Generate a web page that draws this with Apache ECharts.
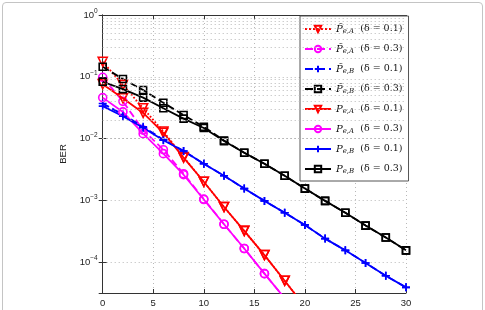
<!DOCTYPE html>
<html>
<head>
<meta charset="utf-8">
<script src="https://cdn.jsdelivr.net/npm/echarts@6/dist/echarts.min.js"></script>
<style>
  html, body { margin: 0; padding: 0; background: #fff; }
  #frame { position: absolute; left: 2px; top: 2px; width: 479px; height: 330px; border: 1px solid #c4c4c4; border-radius: 4px; }
  #main { position: absolute; left: 0; top: 0; width: 485px; height: 310px; }
</style>
</head>
<body>
<div id="frame"></div>
<div id="main"></div>
<script>
// SNR (dB) sample points
var snr = [0, 2, 4, 6, 8, 10, 12, 14, 16, 18, 20, 22, 24, 26, 28, 30];

// approximated BER (tilde)
var tA01 = [0.175, 0.074, 0.031, 0.013, 0.0050, 0.0020, 0.00078, 0.00032, 0.00013, 0.00005, 0.000019];
var tA03 = [0.098, 0.040, 0.0137, 0.0066, 0.0027, 0.00105, 0.00041, 0.000166, 0.000065, 0.000026];
var tB01 = [0.037, 0.0245, 0.0155, 0.0096, 0.0063, 0.0039, 0.0025, 0.00155, 0.00098, 0.00063, 0.0004, 0.00024, 0.000155, 0.000097, 0.00006, 0.000039];
var tB03 = [0.145, 0.092, 0.061, 0.038, 0.024, 0.0155, 0.0093, 0.0059, 0.0039, 0.0025, 0.00155, 0.00098, 0.00063, 0.00039, 0.00025, 0.000155];

// exact BER
var pA01 = [0.076, 0.045, 0.026, 0.0124, 0.0049, 0.0020, 0.00078, 0.00032, 0.00013, 0.00005, 0.000019];
var pA03 = [0.046, 0.027, 0.012, 0.0057, 0.0026, 0.00103, 0.00041, 0.000166, 0.000065, 0.000026];
var pB01 = [0.0335, 0.023, 0.015, 0.0094, 0.0063, 0.0039, 0.0025, 0.00155, 0.00098, 0.00063, 0.0004, 0.00024, 0.000155, 0.000097, 0.00006, 0.000039];
var pB03 = [0.083, 0.063, 0.046, 0.031, 0.021, 0.0148, 0.0091, 0.0059, 0.0039, 0.0025, 0.00155, 0.00098, 0.00063, 0.00039, 0.00025, 0.000155];

// minor log grid lines (2..9 x 10^k)
var minorGrid = [4e-5, 5e-5, 6e-5, 7e-5, 8e-5, 9e-5,
  2e-4, 3e-4, 4e-4, 5e-4, 6e-4, 7e-4, 8e-4, 9e-4,
  2e-3, 3e-3, 4e-3, 5e-3, 6e-3, 7e-3, 8e-3, 9e-3,
  2e-2, 3e-2, 4e-2, 5e-2, 6e-2, 7e-2, 8e-2, 9e-2,
  0.2, 0.3, 0.4, 0.5, 0.6, 0.7, 0.8, 0.9];

var RED = '#ff0000', MAG = '#ff00ff', BLUE = '#0000ff', BLK = '#000000';
var PLUS = 'path://M0,5L10,5M5,0L5,10';

var legendText = {
  a1: '{p|P\u0303}{s|e,A}{t|  (δ = 0.1)}',
  a3: '{p|P\u0303}{s|e,A}{t|  (δ = 0.3)}',
  b1: '{p|P\u0303}{s|e,B}{t|  (δ = 0.1)}',
  b3: '{p|P\u0303}{s|e,B}{t|  (δ = 0.3)}',
  A1: '{p|P}{s|e,A}{t|  (δ = 0.1)}',
  A3: '{p|P}{s|e,A}{t|  (δ = 0.3)}',
  B1: '{p|P}{s|e,B}{t|  (δ = 0.1)}',
  B3: '{p|P}{s|e,B}{t|  (δ = 0.3)}'
};

function pairs(vals) {
  var out = [];
  for (var i = 0; i < vals.length; i++) out.push([snr[i], vals[i]]);
  return out;
}

function mk(name, vals, color, dash, symbol, size, rotate) {
  return {
    name: name,
    type: 'line',
    data: pairs(vals),
    symbol: symbol,
    symbolSize: size,
    symbolRotate: rotate || 0,
    showAllSymbol: true,
    clip: true,
    z: dash === 'solid' ? 3 : 2,
    lineStyle: { color: color, width: 1.8, type: dash },
    itemStyle: { color: 'rgba(0,0,0,0)', borderColor: color, borderWidth: 1.6 },
    emphasis: { disabled: true }
  };
}

function fmtPow(v) {
  var e = Math.log10(v);
  if (Math.abs(e - Math.round(e)) > 1e-6) return '';
  return '10{sup|' + (Math.round(e) === 0 ? '0' : '\u2212' + Math.abs(Math.round(e))) + '}';
}

var chart = echarts.init(document.getElementById('main'));

var series = [
  mk('a1', tA01, RED, 'dotted', 'triangle', 9, 180),
  mk('a3', tA03, MAG, 'dashed', 'circle', 8),
  mk('b1', tB01, BLUE, 'dashed', PLUS, 8),
  mk('b3', tB03, BLK, 'dashed', 'rect', 7),
  mk('A1', pA01, RED, 'solid', 'triangle', 9, 180),
  mk('A3', pA03, MAG, 'solid', 'circle', 8),
  mk('B1', pB01, BLUE, 'solid', PLUS, 8),
  mk('B3', pB03, BLK, 'solid', 'rect', 7)
];

// minor grid lines
series.push({
  type: 'line',
  data: [],
  silent: true,
  markLine: {
    silent: true,
    symbol: ['none', 'none'],
    label: { show: false },
    lineStyle: { color: '#b8b8b8', type: [1, 3], width: 1 },
    emphasis: { disabled: true },
    data: minorGrid.map(function (v) { return { yAxis: v }; })
  },
  z: 1
});

var option = {
  animation: false,
  grid: { left: 102.7, right: 79, top: 15, bottom: 17 },
  legend: {
    orient: 'vertical',
    left: 300,
    top: 16,
    width: 106,
    itemWidth: 26,
    itemHeight: 8,
    itemGap: 8,
    padding: [7, 6, 6, 4],
    backgroundColor: '#fff',
    borderColor: '#555',
    borderWidth: 1,
    borderRadius: 0,
    data: ['a1', 'a3', 'b1', 'b3', 'A1', 'A3', 'B1', 'B3'],
    formatter: function (n) { return legendText[n]; },
    textStyle: {
      color: '#111',
      rich: {
        p: { fontFamily: 'DejaVu Serif', fontStyle: 'italic', fontSize: 10, lineHeight: 12 },
        s: { fontFamily: 'DejaVu Serif', fontStyle: 'italic', fontSize: 7, lineHeight: 12, padding: [5, 0, 0, 0] },
        t: { fontFamily: 'DejaVu Serif', fontSize: 9.5, lineHeight: 12 }
      }
    }
  },
  xAxis: [{
    type: 'value',
    min: 0, max: 30, interval: 5,
    axisLine: { lineStyle: { color: '#333' } },
    axisTick: { inside: true, length: 4, lineStyle: { color: '#333' } },
    axisLabel: { color: '#222', fontSize: 9.5, fontFamily: 'Arial, Liberation Sans', margin: 5 },
    splitLine: { show: true, lineStyle: { color: '#b8b8b8', type: [1, 3] } }
  }, {
    type: 'value', position: 'top',
    min: 0, max: 30, interval: 5,
    axisLine: { show: true, lineStyle: { color: '#333' } },
    axisTick: { inside: true, length: 4, lineStyle: { color: '#333' } },
    axisLabel: { show: false },
    splitLine: { show: false }
  }],
  yAxis: [{
    type: 'log',
    logBase: 10,
    min: 3.1623e-5, max: 1,
    name: 'BER',
    nameLocation: 'middle',
    nameGap: 24,
    nameTextStyle: { color: '#222', fontSize: 9.5, fontFamily: 'Arial, Liberation Sans' },
    axisLine: { show: true, lineStyle: { color: '#333' } },
    axisTick: { inside: true, length: 4, lineStyle: { color: '#333' } },
    axisLabel: {
      color: '#222', fontSize: 9.5, fontFamily: 'Arial, Liberation Sans', margin: 5,
      formatter: fmtPow,
      rich: { sup: { fontSize: 6.5, padding: [0, 0, 7, 0], fontFamily: 'Arial, Liberation Sans', color: '#222' } }
    },
    splitLine: { show: true, lineStyle: { color: '#b8b8b8', type: [1, 3] } }
  }, {
    type: 'log',
    logBase: 10,
    position: 'right',
    min: 3.1623e-5, max: 1,
    axisLine: { show: true, lineStyle: { color: '#333' } },
    axisTick: { inside: true, length: 4, lineStyle: { color: '#333' } },
    axisLabel: { show: false },
    splitLine: { show: false }
  }],
  series: series
};

chart.setOption(option);
</script>
</body>
</html>
